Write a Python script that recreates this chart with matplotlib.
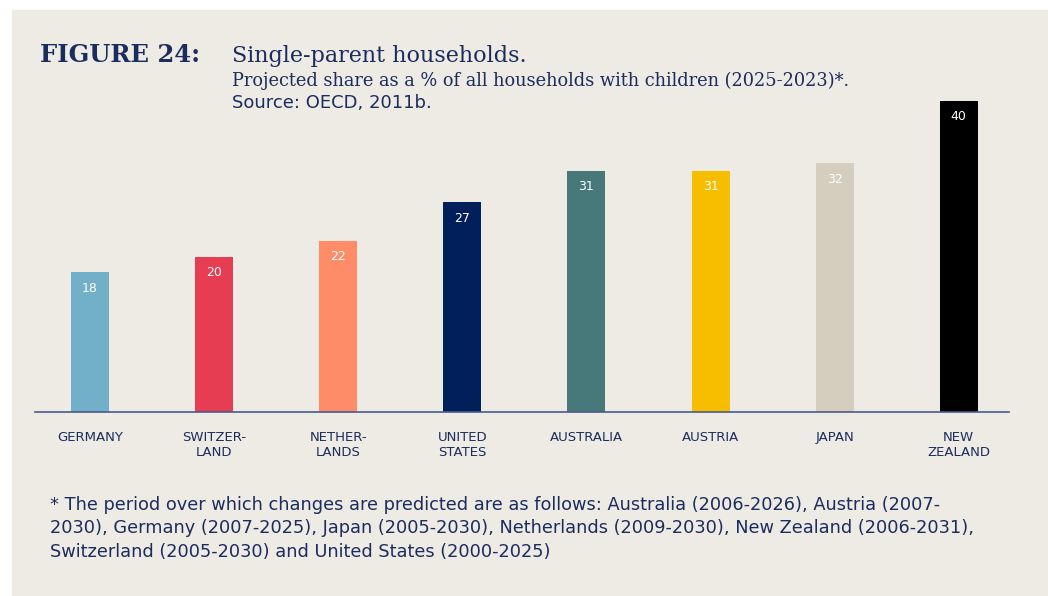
import matplotlib
matplotlib.use("Agg")
import matplotlib.pyplot as plt
from matplotlib.patches import Rectangle

# data
paises = ["GERMANY", "SWITZER-\nLAND", "NETHER-\nLANDS", "UNITED\nSTATES",
          "AUSTRALIA", "AUSTRIA", "JAPAN", "NEW\nZEALAND"]
valores = [18, 20, 22, 27, 31, 31, 32, 40]
colores = ["#72b0c9", "#e63d52", "#ff8c69", "#001f5b",
           "#47787a", "#f7be00", "#d5cdbd", "#000000"]

titulo = "FIGURE 24:"
subtitulo = "Single-parent households."
descripcion = "Projected share as a % of all households with children (2025-2023)*."
fuente = "Source: OECD, 2011b."
nota = ("* The period over which changes are predicted are as follows: Australia (2006-2026), Austria (2007-\n"
        "2030), Germany (2007-2025), Japan (2005-2030), Netherlands (2009-2030), New Zealand (2006-2031),\n"
        "Switzerland (2005-2030) and United States (2000-2025)")

W, H = 1048, 596
fondo = "#eeebe4"
azul = "#1b2d5e"
sans = ["DejaVu Sans"]
serif = ["DejaVu Serif"]

fig = plt.figure(figsize=(W / 100, H / 100), dpi=100, facecolor="white")
fig.patches.append(Rectangle((12 / W, 0), 1 - 12 / W, 1 - 10 / H,
                             transform=fig.transFigure, color=fondo, zorder=-10))


def fx(px):
    return px / W


def fy(py):
    return 1 - py / H


ax = fig.add_axes([fx(35), fy(412), fx(1009) - fx(35), fy(101) - fy(412)])
ax.set_facecolor("none")
x = list(range(len(valores)))
ax.bar(x, valores, width=0.306, color=colores, zorder=2)
ax.set_xlim(-0.443, 7.405)
ax.set_ylim(0, 40)

for xi, v in zip(x, valores):
    ax.annotate(str(v), (xi, v), xytext=(0, -11.5), textcoords="offset points",
                ha="center", va="center", color="white", fontsize=9, family=sans)

for s in ["top", "right", "left"]:
    ax.spines[s].set_visible(False)
ax.spines["bottom"].set_color("#4a5a8a")
ax.spines["bottom"].set_linewidth(1.2)
ax.spines["bottom"].set_zorder(3)
ax.set_yticks([])
ax.set_xticks(x)
ax.set_xticklabels(paises, fontsize=9.5, color=azul, family=sans, linespacing=1.15, va="top")
ax.tick_params(axis="x", length=0, pad=14)

fig.text(fx(40), fy(62), titulo, fontsize=17.5, fontweight="bold", color=azul,
         family=serif, va="baseline")
fig.text(fx(232), fy(62), subtitulo, fontsize=16, color=azul, family=serif, va="baseline")
fig.text(fx(232), fy(86), descripcion, fontsize=12.8, color=azul, family=serif, va="baseline")
fig.text(fx(232), fy(108), fuente, fontsize=13, color=azul, family=sans, va="baseline")
fig.text(fx(50), fy(496), nota, fontsize=12.8, color=azul, family=sans, va="top",
         linespacing=1.38)

fig.savefig("out.png", dpi=100, facecolor="white")
